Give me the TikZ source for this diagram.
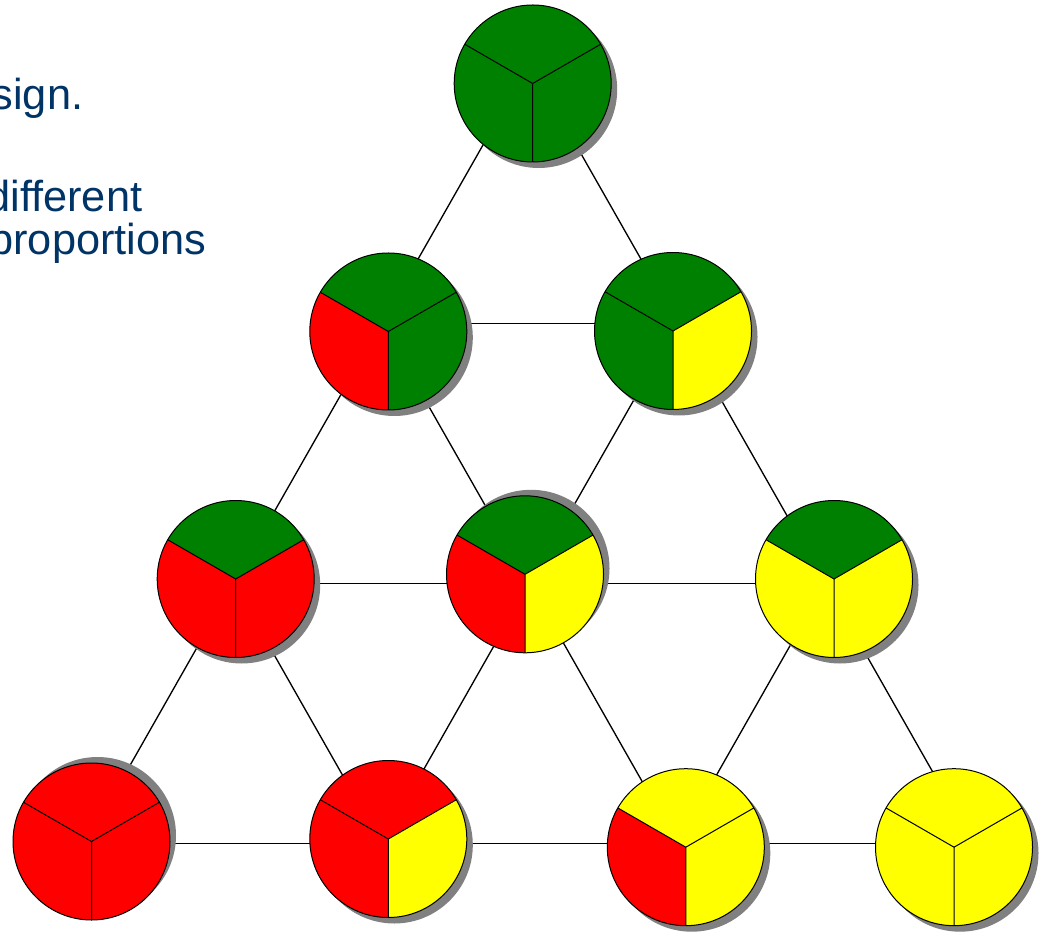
\documentclass[tikz,border=0pt]{standalone}
\usepackage{fontspec}
\setmainfont{Liberation Sans}

\definecolor{navy}{RGB}{0,51,102}
\definecolor{pgreen}{RGB}{0,128,0}
\definecolor{pred}{RGB}{255,0,0}
\definecolor{pyellow}{RGB}{255,255,0}
\definecolor{pshade}{RGB}{128,128,128}

% radius of one pie
\newcommand{\rad}{78.5}
% \ternpie{centre}{shadow shift}{top}{left}{right}
\newcommand{\ternpie}[5]{%
  \fill[pshade] ([shift={(#2)}]#1) circle[radius=\rad];
  \fill[#3] (#1) -- ++(30:\rad) arc[start angle=30,end angle=150,radius=\rad] -- cycle;
  \fill[#4] (#1) -- ++(150:\rad) arc[start angle=150,end angle=270,radius=\rad] -- cycle;
  \fill[#5] (#1) -- ++(270:\rad) arc[start angle=270,end angle=390,radius=\rad] -- cycle;
  \draw[line width=0.75pt] (#1) circle[radius=\rad];
  \draw[line width=0.75pt] (#1) -- ++(30:\rad) (#1) -- ++(150:\rad) (#1) -- ++(270:\rad);
}

\begin{document}
\begin{tikzpicture}[x=0.75pt,y=0.75pt,
    link/.style={draw,line width=1pt},
    txt/.style={inner sep=0pt,anchor=base east,text=navy,font=\fontsize{32.5}{39}\selectfont}]
  %\draw[help lines,step=50] (0,0) grid (1044,932);
  \fill[white] (0,0) rectangle (1044,932);
  \clip (0,0) rectangle (1044,932);

  \draw (83.5,822.7) node[txt](sign)  {sign.};
  \draw (142.5,720.3) node[txt](diff) {different};
  \draw (206.5,677) node[txt](prop)   {proportions};

  % lattice
  \coordinate (g3)  at (529.5,868.7);

  \coordinate (g2r) at (381.5,608.7);
  \coordinate (g2y) at (677.5,608.7);

  \coordinate (gr2) at (233.5,348.7);
  \coordinate (gry) at (529.5,348.7);
  \coordinate (gy2) at (825.5,348.7);

  \coordinate (r3)  at ( 85.5,88.3);
  \coordinate (r2y) at (381.5,88.3);
  \coordinate (ry2) at (677.5,88.3);
  \coordinate (y3)  at (973.5,88.3);

  \path[link] (g3) -- (g2r);
  \path[link] (g3) -- (g2y);
  \path[link] (g2r) -- (g2y);

  \path[link] (g2r) -- (gr2);
  \path[link] (g2r) -- (gry);
  \path[link] (g2y) -- (gry);
  \path[link] (g2y) -- (gy2);
  \path[link] (gr2) -- (gry);
  \path[link] (gry) -- (gy2);

  \path[link] (gr2) -- (r3);
  \path[link] (gr2) -- (r2y);
  \path[link] (gry) -- (r2y);
  \path[link] (gry) -- (ry2);
  \path[link] (gy2) -- (ry2);
  \path[link] (gy2) -- (y3);
  \path[link] (r3) -- (r2y);
  \path[link] (r2y) -- (ry2);
  \path[link] (ry2) -- (y3);

  % pies, a little off the lattice
  \coordinate (g3p)  at (532.7,848.5);
  \coordinate (g2rp) at (388.3,600.5);
  \coordinate (g2yp) at (673.0,601.0);
  \coordinate (gr2p) at (235.7,353.0);
  \coordinate (gryp) at (525.0,357.7);
  \coordinate (gy2p) at (834.0,353.0);
  \coordinate (r3p)  at ( 91.5,90.5);
  \coordinate (r2yp) at (388.3,93.0);
  \coordinate (ry2p) at (685.8,84.8);
  \coordinate (y3p)  at (954.0,84.8);

  \ternpie{g3p}{6,-6}{pgreen}{pgreen}{pgreen}
  \ternpie{g2rp}{6,-6}{pgreen}{pred}{pgreen}
  \ternpie{g2yp}{6,-6}{pgreen}{pgreen}{pyellow}
  \ternpie{gr2p}{6,-6}{pgreen}{pred}{pred}
  \ternpie{gryp}{6,6}{pgreen}{pred}{pyellow}
  \ternpie{gy2p}{6,-6}{pgreen}{pyellow}{pyellow}
  \ternpie{r3p}{6,6}{pred}{pred}{pred}
  \ternpie{r2yp}{6,-6}{pred}{pred}{pyellow}
  \ternpie{ry2p}{6,-6}{pyellow}{pred}{pyellow}
  \ternpie{y3p}{6,-6}{pyellow}{pyellow}{pyellow}

\end{tikzpicture}
\end{document}
